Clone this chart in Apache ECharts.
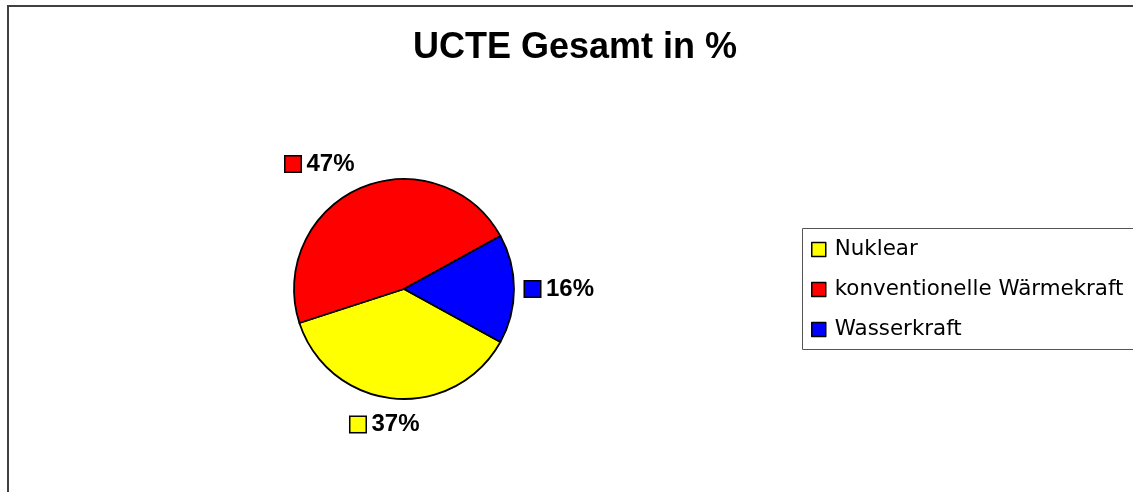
<!DOCTYPE html>
<html lang="de">
<head>
    <meta charset="UTF-8">
    <title>UCTE Gesamt in %</title>
    <style>
        html, body, #chart {
            margin: 0;
            padding: 0;
            overflow: hidden;
            width: 100%;
            height: 100%;
            background: #fff;
        }
    </style>
</head>
<body>
    <div id="chart"></div>
    <script src="https://cdn.jsdelivr.net/npm/echarts@6/dist/echarts.min.js"></script>
    <script>
        var categories = ['Nuklear', 'konventionelle Wärmekraft', 'Wasserkraft'];
        var shares = [37, 47, 16];
        var colors = ['#ffff00', '#ff0000', '#0000ff'];

        // nudges so the labels sit where the original placed them
        var labelShift = [[32, 14], [4, -13], [-6, 0]];

        var chart = echarts.init(document.getElementById('chart'));

        var rich = {
            gap: { width: 6 },
            v: { fontSize: 24, fontWeight: 'bold', color: '#000', fontFamily: 'Liberation Sans' }
        };
        colors.forEach(function (c, i) {
            rich['sq' + i] = { width: 15, height: 15, backgroundColor: c, borderColor: '#000', borderWidth: 1.5 };
        });

        var data = categories.map(function (name, i) {
            return { name: name, value: shares[i], itemStyle: { color: colors[i] } };
        });

        chart.setOption({
            animation: false,
            title: {
                text: 'UCTE Gesamt in %',
                left: 413,
                top: 30,
                padding: 0,
                textStyle: { fontSize: 36, fontWeight: 'bold', color: '#000', fontFamily: 'Liberation Sans' }
            },
            legend: {
                orient: 'vertical',
                left: 811,
                top: 239,
                padding: 0,
                itemGap: 19,
                itemWidth: 14,
                itemHeight: 14,
                icon: 'rect',
                itemStyle: { borderColor: '#000', borderWidth: 1.5 },
                textStyle: { fontSize: 21.4, color: '#000', fontFamily: 'DejaVu Sans', padding: [0, 0, 0, 4] },
                data: categories
            },
            graphic: [
                { type: 'rect', shape: { x: 8, y: 6, width: 1300, height: 700 }, style: { fill: 'none', stroke: '#404040', lineWidth: 2 } },
                { type: 'rect', shape: { x: 802.5, y: 228.5, width: 331, height: 121 }, style: { fill: 'none', stroke: '#555', lineWidth: 1 } }
            ],
            series: [{
                type: 'pie',
                center: [404, 289],
                radius: 110,
                startAngle: -28.8,
                clockwise: true,
                avoidLabelOverlap: false,
                itemStyle: { borderColor: '#000', borderWidth: 1.8 },
                emphasis: { disabled: true },
                label: {
                    position: 'outside',
                    formatter: function (p) {
                        return '{sq' + p.dataIndex + '|}{gap|}{v|' + p.value + '%}';
                    },
                    rich: rich
                },
                labelLine: { show: false, length: 12, length2: 0 },
                labelLayout: function (p) {
                    var s = labelShift[p.dataIndex];
                    return { dx: s[0], dy: s[1] };
                },
                data: data
            }]
        });
    </script>
</body>
</html>
